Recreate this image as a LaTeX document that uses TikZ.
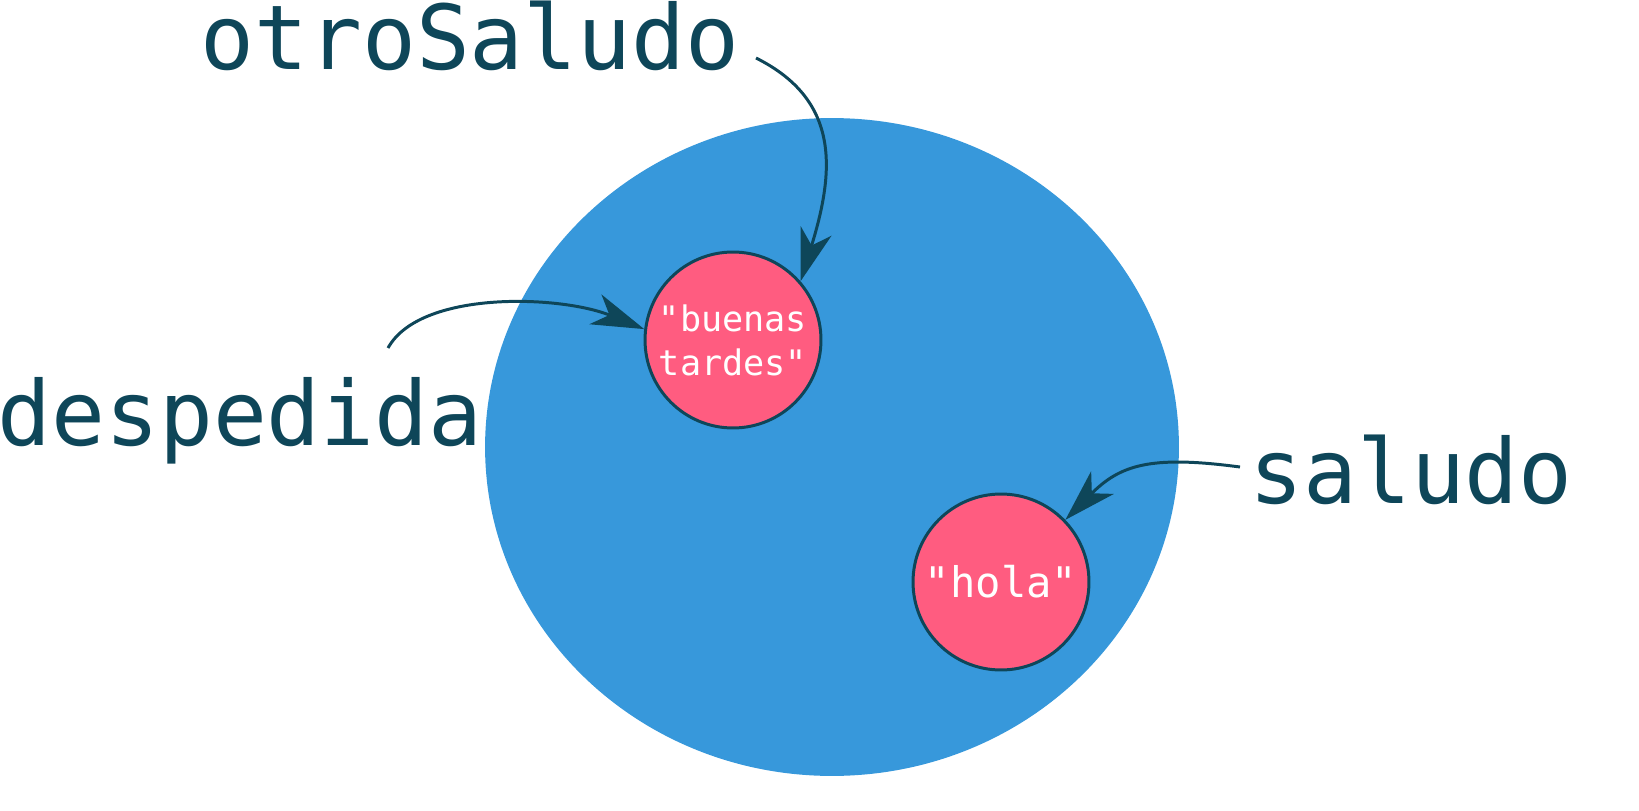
\documentclass[tikz,border=0pt]{standalone}
\usepackage{fontspec}
\setmonofont{DejaVu Sans Mono}
\usetikzlibrary{arrows.meta}
\definecolor{tinta}{HTML}{0E4659}
\definecolor{fondo}{HTML}{3798DB}
\definecolor{cadena}{HTML}{FF5C80}

\begin{document}
\begin{tikzpicture}[
    x=0.02cm,
    y=-0.02cm,
    >={Stealth[length=1.05cm,width=0.64cm,inset=0.3cm]},
    line width=1.7pt,
    var node/.style={text=tinta,inner sep=0pt,anchor=base,
      font=\ttfamily\fontsize{51}{60}\selectfont},
    value node/.style={circle,draw=tinta,fill=cadena,text=white,
      minimum size=3.52cm,inner sep=0pt,align=center}
    ]

    \useasboundingbox (0,0) rectangle (1639,811);

    % memoria
    \fill[fondo] (832,447) ellipse [x radius=6.94cm, y radius=6.58cm];

    \node[value node,font=\ttfamily\fontsize{20}{25}\selectfont] (buenas)
      at (733,340) {"buenas\\tardes"};
    \node[value node,font=\ttfamily\fontsize{24}{28}\selectfont] (hola)
      at (1001,582) {"hola"};

    \node[var node] (otro) at (470,70) {otroSaludo};
    \node[var node] (desp) at (240,445) {despedida};
    \node[var node] (salu) at (1411,503) {saludo};

    \coordinate (otroStart) at (756,58);
    \coordinate (despStart) at (388,348);
    \coordinate (saluStart) at (1240,467);

    \draw[->,tinta] (otroStart) .. controls (840,100) and (835,170) .. (buenas.41);
    \draw[->,tinta] (despStart) .. controls (420,290) and (560,295) .. (buenas.173);
    \draw[->,tinta] (saluStart) .. controls (1150,455) and (1120,465) .. (hola.44);
  \end{tikzpicture}
\end{document}
